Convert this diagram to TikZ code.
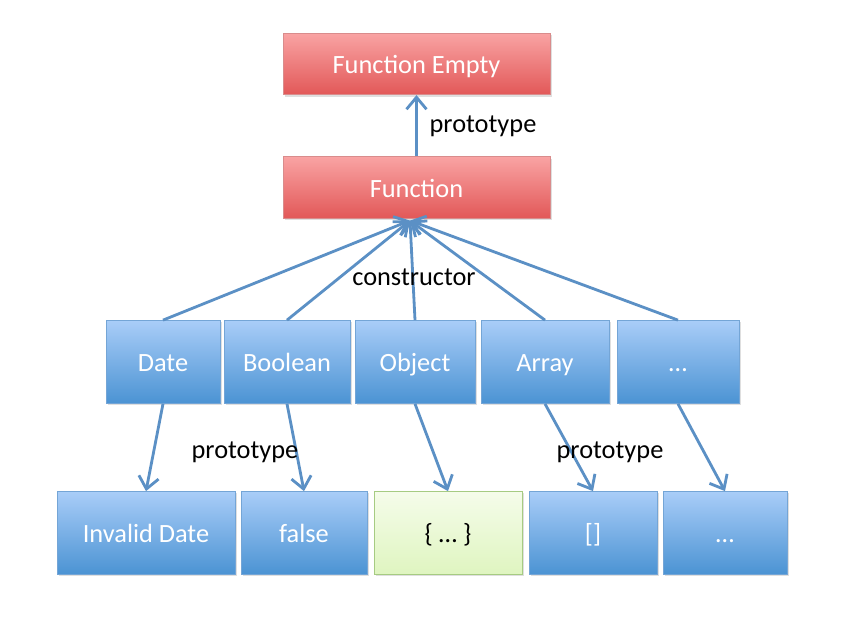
\documentclass[tikz,border=0pt]{standalone}
\usepackage{fontspec}
\setmainfont{Carlito}
\usepackage{tikz}
\usetikzlibrary{arrows.meta,shadows}

\definecolor{redtop}{HTML}{F9A3A3}
\definecolor{redbot}{HTML}{E25858}
\definecolor{redline}{HTML}{D98C8C}
\definecolor{bluetop}{HTML}{A9CDF8}
\definecolor{bluebot}{HTML}{4B93D3}
\definecolor{blueline}{HTML}{74A5D6}
\definecolor{greentop}{HTML}{F5FCEA}
\definecolor{greenbot}{HTML}{DFF5C0}
\definecolor{greenline}{HTML}{A6CB82}
\definecolor{arrowblue}{HTML}{5B90C5}

\tikzset{
  objbox/.style={rectangle,draw=blueline,top color=bluetop,bottom color=bluebot,
    text=white,minimum height=1.66cm,inner sep=0pt,text height=2.4ex,text depth=0.1ex,
    drop shadow={opacity=0.25,shadow xshift=0.04cm,shadow yshift=-0.04cm}},
  fnbox/.style={objbox,draw=redline,top color=redtop,bottom color=redbot,
    minimum width=5.34cm,minimum height=1.23cm},
  litbox/.style={objbox,draw=greenline,top color=greentop,bottom color=greenbot,text=black},
  link/.style={arrowblue,line width=1.6pt,-{Straight Barb[length=2.4mm,width=4mm]}},
  lbl/.style={font=\fontsize{15}{18}\selectfont}
}

\begin{document}
\begin{tikzpicture}[font=\fontsize{15}{18}\selectfont]
    \useasboundingbox (0,0) rectangle (17.14,12.54);

    % function chain
    \node[fnbox] (fnempty) at (8.33,11.26) {Function Empty};
    \node[fnbox] (fn) at (8.33,8.79) {Function};
    \draw[link] (fn) to (fnempty);
    \node[lbl] (protofn) at (9.66,10.02) {prototype};

    % constructors
    \node[objbox,minimum width=2.28cm] (date) at (3.26,5.30) {Date};
    \node[objbox,minimum width=2.52cm] (bool) at (5.74,5.30) {Boolean};
    \node[objbox,minimum width=2.40cm] (obj) at (8.30,5.30) {Object};
    \node[objbox,minimum width=2.56cm] (arr) at (10.90,5.30) {Array};
    \node[objbox,minimum width=2.44cm] (more) at (13.56,5.30) {…};

    % constructor links
    \coordinate (fnin) at ([xshift=-0.13cm,yshift=-0.04cm]fn.south);
    \foreach \n in {date,bool,obj,arr,more}
        \draw[link] (\n.north) to (fnin);
    \node[lbl] (ctor) at (8.28,7.0) {constructor};

    % instances
    \node[objbox,minimum width=3.56cm] (invdate) at (2.92,1.88) {Invalid Date};
    \node[objbox,minimum width=2.52cm] (false) at (6.08,1.88) {false};
    \node[litbox,minimum width=2.96cm] (objlit) at (8.96,1.88) {\{ … \}};
    \node[objbox,minimum width=2.56cm] (arrlit) at (11.86,1.88) {[]};
    \node[objbox,minimum width=2.48cm] (morelit) at (14.50,1.88) {…};

    % prototype links
    \draw[link] (date.south) to (invdate.north);
    \draw[link] (bool.south) to (false.north);
    \draw[link] (obj.south) to (objlit.north);
    \draw[link] (arr.south) to (arrlit.north);
    \draw[link] (more.south) to (morelit.north);
    \node[lbl] (protoleft) at (4.9,3.5) {prototype};
    \node[lbl] (protoright) at (12.2,3.5) {prototype};

\end{tikzpicture}
\end{document}
